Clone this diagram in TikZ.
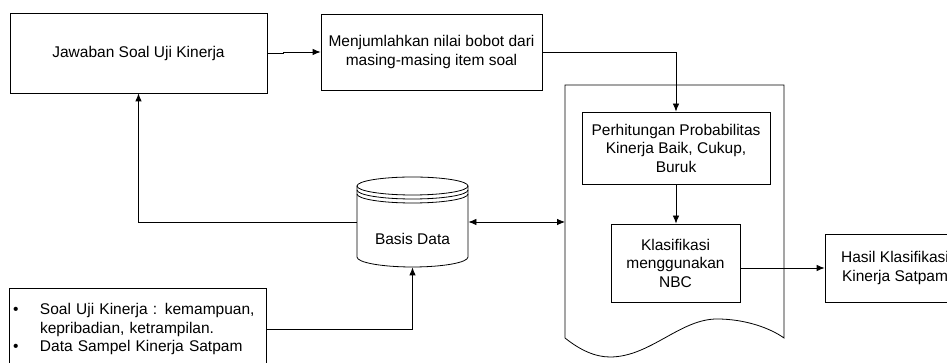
\documentclass[tikz,border=0pt]{standalone}
\usepackage{fontspec}
\setmainfont{Liberation Sans}
\usetikzlibrary{arrows.meta}
\tikzset{
  box/.style={draw,line width=0.8pt,align=center,inner sep=3pt},
  arr/.style={-{Latex[length=8pt,width=6.5pt]}},
  dblarr/.style={{Latex[length=8pt,width=6.5pt]}-{Latex[length=8pt,width=6.5pt]}},
}
\begin{document}
\begin{tikzpicture}[x=1pt,y=1pt,line width=0.8pt,font=\fontsize{15.5}{18.5}\selectfont]
\useasboundingbox (0,0) rectangle (947,363);
\clip (0,0) rectangle (947,363);
\node[box,minimum width=257pt,minimum height=80pt](jawab) at (138.5,310){Jawaban Soal Uji Kinerja};
\node[box,minimum width=221pt,minimum height=76pt](jumlah) at (431.5,311){Menjumlahkan nilai bobot dari\\masing-masing item soal};
% dokumen
\draw (565,25)--(565,278)--(784,278)--(784,25)
  .. controls (770,35) and (745,44) .. (717,44)
  .. controls (680,44) and (650,6) .. (610,6)
  .. controls (595,6) and (580,13) .. (565,25)--cycle;
\coordinate (docw) at (565,141);
\node[box,minimum width=188pt,minimum height=72pt](hitung) at (676,215){Perhitungan Probabilitas\\Kinerja Baik, Cukup,\\Buruk};
\node[box,minimum width=129pt,minimum height=78pt](nbc) at (675.5,100){Klasifikasi\\menggunakan\\NBC};
\node[box,minimum width=140pt,minimum height=68pt](hasil) at (895,95){Hasil Klasifikasi\\Kinerja Satpam};
% basis data
\node[minimum width=111pt,minimum height=90pt,inner sep=0pt](db) at (412.5,141){};
\draw (357,177)--(357,106) arc[start angle=180,end angle=360,x radius=55.5,y radius=10]--(468,177);
\draw (412.5,177) ellipse [x radius=55.5,y radius=9];
\draw (357,173) arc[start angle=180,end angle=360,x radius=55.5,y radius=9];
\draw (357,169) arc[start angle=180,end angle=360,x radius=55.5,y radius=9];
\node(dblabel) at (412.5,124){Basis Data};
\node[box,minimum width=257pt,minimum height=82pt,text width=249pt,align=left,inner sep=4pt](sumber) at (137.5,34)
  {\makebox[27pt][l]{\textbullet}Soal Uji Kinerja : kemampuan,\\\hspace*{27pt}kepribadian, ketrampilan.\\\makebox[27pt][l]{\textbullet}Data Sampel Kinerja Satpam};
\draw[arr](jawab.east)--++(16,0)|-(jumlah.west);
\draw[arr](jumlah.east)-|(hitung.north);
\draw[arr](hitung.south)--(hitung.south|-nbc.north);
\draw[arr](nbc.east|-hasil.west)--(hasil.west);
\draw[dblarr](db.east)--(docw);
\draw[arr](db.west)-|(jawab.south);
\draw[arr](sumber.east)-|(db.south);
\end{tikzpicture}
\end{document}
